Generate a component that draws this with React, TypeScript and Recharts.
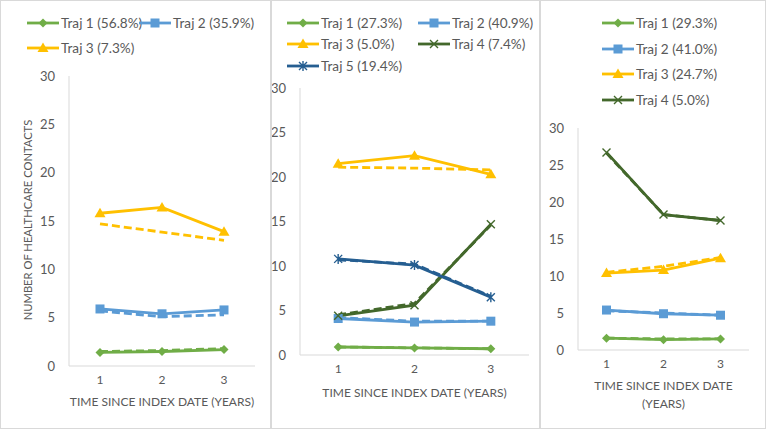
import React from "react";
import { Line, LineChart, XAxis, YAxis } from "recharts";

type Shape = "diamond" | "square" | "triangle" | "x" | "star";

const years = [1, 2, 3];
const yTicks = [0, 5, 10, 15, 20, 25, 30];

// panel A
const aLabels = ["Traj 1 (56.8%)", "Traj 2 (35.9%)", "Traj 3 (7.3%)"];
const aTraj1 = [1.4, 1.5, 1.7];
const aTraj1Fit = [1.5, 1.6, 1.8];
const aTraj2 = [5.9, 5.4, 5.8];
const aTraj2Fit = [5.7, 5.1, 5.3];
const aTraj3 = [15.8, 16.4, 13.9];
const aTraj3Fit = [14.7, 13.85, 13.0];

// panel B
const bLabels = ["Traj 1 (27.3%)", "Traj 2 (40.9%)", "Traj 3 (5.0%)", "Traj 4 (7.4%)", "Traj 5 (19.4%)"];
const bTraj1 = [0.9, 0.8, 0.7];
const bTraj1Fit = [0.9, 0.8, 0.7];
const bTraj2 = [4.1, 3.7, 3.8];
const bTraj2Fit = [4.2, 3.8, 3.8];
const bTraj3 = [21.5, 22.4, 20.3];
const bTraj3Fit = [21.1, 21.0, 20.8];
const bTraj4 = [4.4, 5.6, 14.7];
const bTraj4Fit = [4.5, 5.8, 14.6];
const bTraj5 = [10.8, 10.1, 6.5];
const bTraj5Fit = [10.7, 10.2, 6.6];

// panel C
const cLabels = ["Traj 1 (29.3%)", "Traj 2 (41.0%)", "Traj 3 (24.7%)", "Traj 4 (5.0%)"];
const cTraj1 = [1.6, 1.4, 1.5];
const cTraj1Fit = [1.6, 1.5, 1.5];
const cTraj2 = [5.4, 4.9, 4.7];
const cTraj2Fit = [5.3, 5.0, 4.7];
const cTraj3 = [10.4, 10.8, 12.4];
const cTraj3Fit = [10.5, 11.3, 12.5];
const cTraj4 = [26.7, 18.3, 17.5];
const cTraj4Fit = [26.6, 18.3, 17.5];

const GREEN = "#70AD47";
const BLUE = "#5B9BD5";
const GOLD = "#FFC000";
const DKGREEN = "#43682B";
const DKBLUE = "#255E91";
const TEXT = "#595959";
const AXIS = "#D9D9D9";
const FONT = "Lato, 'Open Sans', sans-serif";

interface Series {
  label: string;
  color: string;
  shape: Shape;
  obs: number[];
  fit: number[];
}

function Marker({ shape, cx, cy, color }: { shape: Shape; cx: number; cy: number; color: string }) {
  switch (shape) {
    case "diamond":
      return <polygon points={`${cx},${cy - 4.5} ${cx + 4.5},${cy} ${cx},${cy + 4.5} ${cx - 4.5},${cy}`} fill={color} />;
    case "square":
      return <rect x={cx - 4.5} y={cy - 4.5} width={9} height={9} fill={color} />;
    case "triangle":
      return <polygon points={`${cx},${cy - 5.5} ${cx + 5.5},${cy + 4} ${cx - 5.5},${cy + 4}`} fill={color} />;
    case "x":
      return (
        <path
          d={`M${cx - 4},${cy - 4}L${cx + 4},${cy + 4}M${cx + 4},${cy - 4}L${cx - 4},${cy + 4}`}
          stroke={color}
          strokeWidth={1.4}
          fill="none"
        />
      );
    default:
      return (
        <path
          d={`M${cx - 4},${cy - 4}L${cx + 4},${cy + 4}M${cx + 4},${cy - 4}L${cx - 4},${cy + 4}M${cx},${cy - 5}L${cx},${cy + 5}`}
          stroke={color}
          strokeWidth={1.4}
          fill="none"
        />
      );
  }
}

interface PanelDef {
  key: string;
  left: number;
  width: number;
  top: number;
  bottom: number;
  yWidth: number;
  plotLeft: number;
  plotRight: number;
  series: Series[];
  legendPos: [number, number][];
  xLabel: string[];
  xLabelTop: number;
}

const panels: PanelDef[] = [
  {
    key: "a",
    left: 0,
    width: 270,
    top: 75,
    bottom: 365,
    yWidth: 40,
    plotLeft: 68,
    plotRight: 254,
    series: [
      { label: aLabels[0], color: GREEN, shape: "diamond", obs: aTraj1, fit: aTraj1Fit },
      { label: aLabels[1], color: BLUE, shape: "square", obs: aTraj2, fit: aTraj2Fit },
      { label: aLabels[2], color: GOLD, shape: "triangle", obs: aTraj3, fit: aTraj3Fit },
    ],
    legendPos: [[26, 22], [138, 22], [26, 47]],
    xLabel: ["TIME SINCE INDEX DATE (YEARS)"],
    xLabelTop: 392,
  },
  {
    key: "b",
    left: 270,
    width: 269,
    top: 87,
    bottom: 354,
    yWidth: 25,
    plotLeft: 299,
    plotRight: 528,
    series: [
      { label: bLabels[0], color: GREEN, shape: "diamond", obs: bTraj1, fit: bTraj1Fit },
      { label: bLabels[1], color: BLUE, shape: "square", obs: bTraj2, fit: bTraj2Fit },
      { label: bLabels[2], color: GOLD, shape: "triangle", obs: bTraj3, fit: bTraj3Fit },
      { label: bLabels[3], color: DKGREEN, shape: "x", obs: bTraj4, fit: bTraj4Fit },
      { label: bLabels[4], color: DKBLUE, shape: "star", obs: bTraj5, fit: bTraj5Fit },
    ],
    legendPos: [[286, 22], [417, 22], [286, 43], [417, 43], [286, 65]],
    xLabel: ["TIME SINCE INDEX DATE (YEARS)"],
    xLabelTop: 383,
  },
  {
    key: "c",
    left: 539,
    width: 227,
    top: 127,
    bottom: 349,
    yWidth: 30,
    plotLeft: 577,
    plotRight: 748,
    series: [
      { label: cLabels[0], color: GREEN, shape: "diamond", obs: cTraj1, fit: cTraj1Fit },
      { label: cLabels[1], color: BLUE, shape: "square", obs: cTraj2, fit: cTraj2Fit },
      { label: cLabels[2], color: GOLD, shape: "triangle", obs: cTraj3, fit: cTraj3Fit },
      { label: cLabels[3], color: DKGREEN, shape: "x", obs: cTraj4, fit: cTraj4Fit },
    ],
    legendPos: [[601, 22], [601, 48], [601, 73], [601, 99]],
    xLabel: ["TIME SINCE INDEX DATE", "(YEARS)"],
    xLabelTop: 376,
  },
];

const H = 429;
const XH = 30;

function Panel({ p }: { p: PanelDef }) {
  const data = years.map((t, i) => {
    const row: Record<string, number> = { t };
    p.series.forEach((s, j) => {
      row[`o${j}`] = s.obs[i];
      row[`f${j}`] = s.fit[i];
    });
    return row;
  });
  const plotW = p.plotRight - p.plotLeft;
  const pad = plotW / 6;
  return (
    <div style={{ position: "absolute", left: p.left, top: 0 }}>
      <LineChart
        width={p.width}
        height={H}
        data={data}
        margin={{
          top: p.top,
          left: p.plotLeft - p.left - p.yWidth,
          right: p.left + p.width - p.plotRight,
          bottom: H - p.bottom - XH,
        }}
      >
        <XAxis
          dataKey="t"
          type="category"
          height={XH}
          padding={{ left: pad, right: pad }}
          axisLine={{ stroke: AXIS, strokeWidth: 1 }}
          tickLine={false}
          tickSize={4}
          tickMargin={5}
          tick={{ fill: TEXT, fontSize: 12, fontFamily: FONT }}
        />
        <YAxis
          width={p.yWidth}
          domain={[0, 30]}
          ticks={yTicks}
          interval={0}
          axisLine={{ stroke: AXIS, strokeWidth: 1 }}
          tickLine={false}
          tickSize={6}
          tickMargin={8}
          tick={{ fill: TEXT, fontSize: 13, fontFamily: FONT }}
        />
        {p.series.map((s, j) => (
          <Line
            key={`f${j}`}
            dataKey={`f${j}`}
            stroke={s.color}
            strokeWidth={2.8}
            strokeDasharray="8 4"
            dot={false}
            activeDot={false}
            isAnimationActive={false}
          />
        ))}
        {p.series.map((s, j) => (
          <Line
            key={`o${j}`}
            dataKey={`o${j}`}
            stroke={s.color}
            strokeWidth={2.8}
            dot={(d: { cx: number; cy: number; index: number }) => (
              <Marker key={`m${j}-${d.index}`} shape={s.shape} cx={d.cx} cy={d.cy} color={s.color} />
            )}
            activeDot={false}
            isAnimationActive={false}
          />
        ))}
      </LineChart>
      {p.series.map((s, j) => {
        const [x, y] = p.legendPos[j];
        return (
          <div
            key={`lg${j}`}
            style={{
              position: "absolute",
              left: x - p.left,
              top: y - 9,
              height: 18,
              display: "flex",
              alignItems: "center",
              whiteSpace: "nowrap",
              fontSize: 13.6,
              color: TEXT,
              fontFamily: FONT,
            }}
          >
            <svg width={32} height={14} style={{ marginRight: 2 }}>
              <line x1={0} y1={7} x2={32} y2={7} stroke={s.color} strokeWidth={2.8} />
              <Marker shape={s.shape} cx={16} cy={7} color={s.color} />
            </svg>
            <span>{s.label}</span>
          </div>
        );
      })}
      <div
        style={{
          position: "absolute",
          left: p.plotLeft - p.left - 20,
          width: plotW + 40,
          top: p.xLabelTop,
          textAlign: "center",
          fontSize: 12,
          lineHeight: "18px",
          color: TEXT,
          fontFamily: FONT,
        }}
      >
        {p.xLabel.map((l) => (
          <div key={l}>{l}</div>
        ))}
      </div>
    </div>
  );
}

export default function App() {
  return (
    <div
      style={{
        position: "absolute",
        left: 0,
        top: 0,
        width: 766,
        height: H,
        background: "#fff",
        boxSizing: "border-box",
        border: `1px solid ${AXIS}`,
        overflow: "hidden",
        fontFamily: FONT,
      }}
    >
      {panels.map((p) => (
        <Panel key={p.key} p={p} />
      ))}
      <div style={{ position: "absolute", left: 269, top: 0, width: 2, height: H, background: AXIS }} />
      <div style={{ position: "absolute", left: 538, top: 0, width: 2, height: H, background: AXIS }} />
      <div
        style={{
          position: "absolute",
          left: 27 - 150,
          top: 219 - 9,
          width: 300,
          height: 18,
          lineHeight: "18px",
          textAlign: "center",
          transform: "rotate(-90deg)",
          fontSize: 11.2,
          color: TEXT,
          fontFamily: FONT,
        }}
      >
        NUMBER OF HEALTHCARE CONTACTS
      </div>
    </div>
  );
}
